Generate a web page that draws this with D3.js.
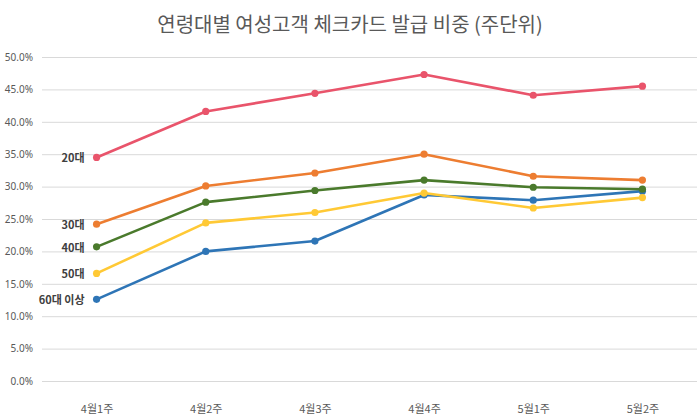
<!DOCTYPE html>
<meta charset="utf-8">
<head>
	<script type="text/javascript" src="https://cdn.jsdelivr.net/npm/d3@7"></script>
	<style>
		body { margin: 0; background: #fff; }
		text { font-family: "Noto Sans CJK KR", "Noto Sans", sans-serif; }
	</style>
</head>
<body>
	<svg id="chart" width="700" height="417"></svg>
</body>
<script type="text/javascript">
	// weeks on the x axis
	var weeks = ["4월1주", "4월2주", "4월3주", "4월4주", "5월1주", "5월2주"];
	var yTicks = [0, 0.05, 0.10, 0.15, 0.20, 0.25, 0.30, 0.35, 0.40, 0.45, 0.50];

	// share per age group
	var age20 = [0.345, 0.416, 0.444, 0.473, 0.441, 0.455];
	var age30 = [0.242, 0.301, 0.321, 0.350, 0.316, 0.310];
	var age40 = [0.207, 0.276, 0.294, 0.310, 0.299, 0.296];
	var age50 = [0.166, 0.244, 0.260, 0.290, 0.267, 0.283];
	var age60 = [0.126, 0.200, 0.216, 0.287, 0.279, 0.293];

	var seriesNames = ["20대", "30대", "40대", "50대", "60대 이상"];
	var seriesColors = ["#E9546B", "#ED7D31", "#4A7A2C", "#FFC935", "#2E75B6"];
	var seriesValues = [age20, age30, age40, age50, age60];

	var svg = d3.select("#chart");
	// plot area (window.top is reserved, so no plain "top")
	var plotL = 42, plotR = 697, plotT = 57, plotB = 381;

	var x = d3.scalePoint().domain(weeks).range([plotL, plotR]).padding(0.5);
	var y = d3.scaleLinear().domain([0, 0.5]).range([plotB, plotT]);

	// title
	svg.append("text")
		.attr("x", 350).attr("y", 32)
		.attr("text-anchor", "middle")
		.style("font-size", "20px")
		.style("fill", "#595959")
		.text("연령대별 여성고객 체크카드 발급 비중 (주단위)");

	// y grid + labels
	var yAxis = d3.axisLeft(y).tickValues(yTicks)
		.tickSize(-(plotR - plotL)).tickFormat(d3.format(".1%"));
	var gy = svg.append("g").attr("transform", "translate(" + plotL + ",0)").call(yAxis);
	gy.select(".domain").remove();
	gy.selectAll(".tick line").attr("stroke", "#d9d9d9").attr("stroke-width", 1);
	gy.selectAll(".tick text")
		.attr("x", -9)
		.style("font-size", "10px")
		.style("fill", "#595959")
		.style("font-family", "'Noto Sans', sans-serif");

	// x labels
	var xAxis = d3.axisBottom(x).tickSize(0);
	var gx = svg.append("g").attr("transform", "translate(0," + plotB + ")").call(xAxis);
	gx.select(".domain").remove();
	gx.selectAll(".tick text")
		.attr("y", 24)
		.style("font-size", "11px")
		.style("fill", "#595959");

	var line = d3.line()
		.x(function(d, i) { return x(weeks[i]); })
		.y(function(d) { return y(d); });

	// draw bottom series first so pink ends on top
	for (var s = seriesValues.length - 1; s >= 0; s--) {
		var g = svg.append("g");
		g.append("path")
			.attr("d", line(seriesValues[s]))
			.attr("fill", "none")
			.attr("stroke", seriesColors[s])
			.attr("stroke-width", 2.6)
			.attr("stroke-linejoin", "round");
		g.selectAll("circle").data(seriesValues[s]).enter().append("circle")
			.attr("cx", function(d, i) { return x(weeks[i]); })
			.attr("cy", function(d) { return y(d); })
			.attr("r", 3.6)
			.attr("fill", seriesColors[s]);
		// label at the start of each line
		svg.append("text")
			.attr("x", x(weeks[0]) - 12)
			.attr("y", y(seriesValues[s][0]) + 5)
			.attr("text-anchor", "end")
			.style("font-size", "11px")
			.style("font-weight", "bold")
			.style("fill", "#404040")
			.text(seriesNames[s]);
	}
</script>
